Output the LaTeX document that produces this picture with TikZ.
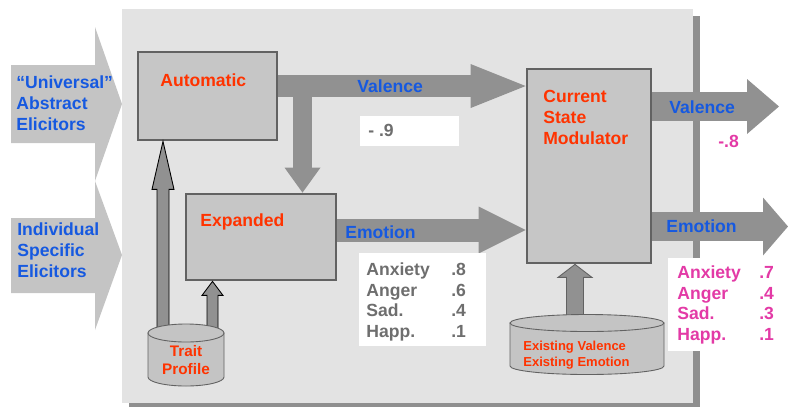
\documentclass[tikz,border=0pt]{standalone}
\usepackage{fontspec}
\setmainfont{Liberation Sans}
\usetikzlibrary{calc,arrows.meta}
\definecolor{panelgray}{HTML}{E3E3E3}
\definecolor{shadegray}{HTML}{8F8F8F}
\definecolor{chevgray}{HTML}{C4C4C4}
\definecolor{boxgray}{HTML}{C6C6C6}
\definecolor{edgegray}{HTML}{626262}
\definecolor{arrowgray}{HTML}{919191}
\definecolor{lblblue}{HTML}{1659E0}
\definecolor{lblred}{HTML}{FF3300}
\definecolor{lblpink}{HTML}{E33AA6}
\definecolor{numgray}{HTML}{6E6E6E}
\def\blockup[#1](#2)(#3)(#4:#5:#6){\draw[#1] ($(#2)+(-#4,0)$) -- ($(#3)+(-#4,#6)$) -- ($(#3)+(-#5,#6)$) -- (#3) -- ($(#3)+(#5,#6)$) -- ($(#3)+(#4,#6)$) -- ($(#2)+(#4,0)$) -- cycle;}
\def\dbcyl[#1](#2)(#3:#4:#5){\draw[#1] ($(#2)+(-#3,-#5)$) -- ($(#2)+(-#3,#5)$) arc[start angle=180, end angle=360, x radius=#3*0.02cm, y radius=#4*0.02cm] -- ($(#2)+(#3,-#5)$) -- cycle;
  \draw[#1] ($(#2)+(0,-#5)$) ellipse [x radius=#3*0.02cm, y radius=#4*0.02cm];}
\tikzset{
  procbox/.style={draw=edgegray, line width=1.6pt, fill=boxgray, inner sep=0pt},
  blockarrow/.style n args={3}{arrowgray, line width=#1*0.02cm, -{Triangle[width=#2*0.02cm, length=#3*0.02cm, line width=0pt]}},
  lbl/.style={font=\bfseries\fontsize{10}{12}\selectfont, inner sep=0pt, align=left},
  smalllbl/.style={font=\bfseries\fontsize{7.4}{9.1}\selectfont, inner sep=0pt, align=left},
  whitebox/.style={fill=white, inner sep=0pt}
}
\begin{document}
\begin{tikzpicture}[x=0.02cm, y=-0.02cm]
  \useasboundingbox (0,0) rectangle (788,407);

  % panel and shadow
  \fill[shadegray] (129,16) rectangle (700,407);
  \fill[panelgray] (122,9) rectangle (693,403);

  % input chevrons
  \fill[chevgray] (11,65) -- (95,65) -- (95,27) -- (122,104) -- (95,181) -- (95,143) -- (11,143) -- cycle;
  \fill[chevgray] (11,218) -- (95,218) -- (95,181) -- (122,255) -- (95,330) -- (95,293) -- (11,293) -- cycle;
  \node[lbl, lblblue, anchor=north west] (univ) at (16,75) {``Universal''\\Abstract\\Elicitors};
  \node[lbl, lblblue, anchor=north west] (indiv) at (17,222) {Individual\\Specific\\Elicitors};

  % boxes
  \node[procbox, minimum width=2.78cm, minimum height=1.76cm] (auto) at (207.5,96) {};
  \node[procbox, minimum width=3cm, minimum height=1.72cm] (expanded) at (261,237) {};
  \node[procbox, minimum width=2.48cm, minimum height=3.88cm] (csm) at (589,166) {};

  % flow arrows
  \coordinate (valrow) at (0,86);
  \coordinate (emorow) at (0,230);
  \coordinate (outvalrow) at (0,106.5);
  \coordinate (outemorow) at (0,226.5);
  \coordinate (downtop) at (302.5,90);
  \coordinate (outvalend) at (779,0);
  \coordinate (outemoend) at (788,0);
  \draw[blockarrow={22}{44}{55}] (auto.east |- valrow) -- (csm.west |- valrow);
  \draw[blockarrow={19}{36}{25}] (downtop) -- (expanded.north -| downtop);
  \draw[blockarrow={23}{47}{47}] (expanded.east |- emorow) -- (csm.west |- emorow);
  \draw[blockarrow={29}{55}{32}] (csm.east |- outvalrow) -- (outvalend |- outvalrow);
  \draw[blockarrow={29}{58}{25}] (csm.east |- outemorow) -- (outemoend |- outemorow);

  % trait arrows
  \coordinate (trlong) at (163,334);
  \coordinate (trshort) at (212.5,334);
  \coordinate (exbase) at (575,323);
  \coordinate (trlongtip) at (auto.south -| trlong);
  \coordinate (trshorttip) at (expanded.south -| trshort);
  \coordinate (extip) at (csm.south -| exbase);
  \blockup[fill=arrowgray, draw=black, line width=0.5pt](trlong)(trlongtip)(6:11:48)
  \blockup[fill=arrowgray, draw=black, line width=0.5pt](trshort)(trshorttip)(5.5:10.5:14)
  \blockup[fill=arrowgray, draw=edgegray, line width=0.5pt](exbase)(extip)(8.5:17:13)

  % stores
  \coordinate (trait) at (186,355);
  \coordinate (existing) at (587,344.5);
  \dbcyl[fill=chevgray, draw=edgegray, line width=0.5pt](trait)(38:9:22)
  \dbcyl[fill=chevgray, draw=edgegray, line width=0.5pt](existing)(77:8.5:21.5)

  % box texts
  \node[lbl, lblred, anchor=base west] (autolbl) at (160,86) {Automatic};
  \node[lbl, lblred, anchor=base west] (explbl) at (200,226) {Expanded};
  \node[lbl, lblred, anchor=north west] (csmlbl) at (543,90) {Current\\State\\Modulator};
  \node[lbl, lblred, align=center, anchor=north, font=\bfseries\fontsize{8.7}{10.3}\selectfont] (traitlbl) at (186,345) {Trait\\Profile};
  \node[smalllbl, lblred, anchor=north west] (exlbl) at (523,340.5) {Existing Valence\\Existing Emotion};

  % arrow labels
  \node[lbl, lblblue, anchor=base west] (vallbl) at (357,92) {Valence};
  \node[lbl, lblblue, anchor=base west] (emolbl) at (345,238) {Emotion};
  \node[lbl, lblblue, anchor=base west] (outvallbl) at (669,113) {Valence};
  \node[lbl, lblblue, anchor=base west] (outemolbl) at (666,232) {Emotion};

  % values
  \node[whitebox, minimum width=1.98cm, minimum height=0.6cm] (valbox) at (409.5,131) {};
  \node[lbl, numgray, anchor=base west] (valnum) at (368,136) {- .9};
  \node[lbl, lblpink, anchor=base west] (outvalnum) at (718,147) {-.8};
  \node[whitebox, minimum width=2.54cm, minimum height=1.86cm] (emobox) at (422.5,299.5) {};
  \node[lbl, numgray, anchor=north west, font=\bfseries\fontsize{10}{11.9}\selectfont] (emonum) at (366,262)
    {\makebox[1.7cm][l]{Anxiety}.8\\\makebox[1.7cm][l]{Anger}.6\\\makebox[1.7cm][l]{Sad.}.4\\\makebox[1.7cm][l]{Happ.}.1};
  \node[whitebox, minimum width=2.4cm, minimum height=1.86cm] (outemobox) at (728,304.5) {};
  \node[lbl, lblpink, anchor=north west, font=\bfseries\fontsize{10}{11.9}\selectfont] (outemonum) at (677,265)
    {\makebox[1.64cm][l]{Anxiety}.7\\\makebox[1.64cm][l]{Anger}.4\\\makebox[1.64cm][l]{Sad.}.3\\\makebox[1.64cm][l]{Happ.}.1};
\end{tikzpicture}
\end{document}
